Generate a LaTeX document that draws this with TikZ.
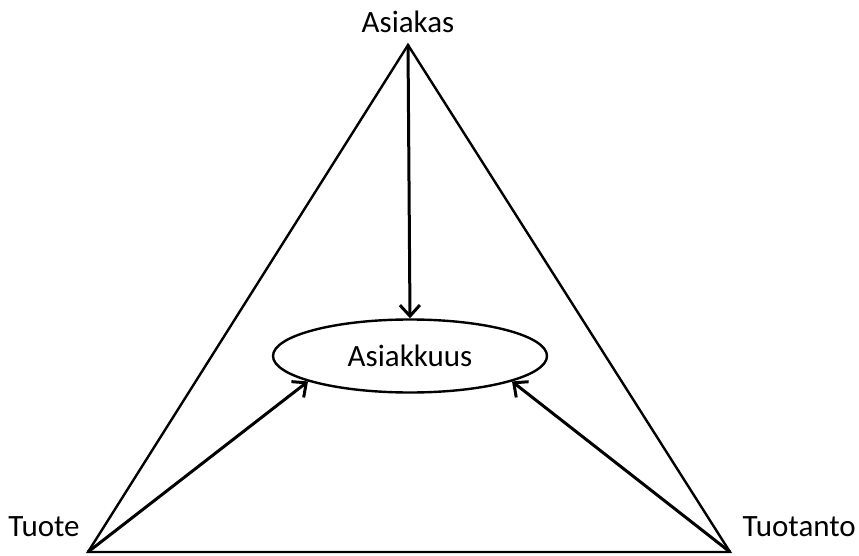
\documentclass[tikz,border=0pt]{standalone}
\usepackage{fontspec}
\setmainfont{Carlito}
\usetikzlibrary{arrows.meta,shapes.geometric}
\tikzset{
  edge/.style={line width=2.4pt, line join=miter},
  flow/.style={line width=3pt, -{Straight Barb[length=11pt,width=20pt]}},
  lbl/.style={font=\fontsize{31}{36}\selectfont, inner sep=0pt},
}
\begin{document}
\begin{tikzpicture}[x=1pt,y=1pt]
  \useasboundingbox (0,0) rectangle (859,555);
  % triangle corners
  \coordinate (top) at (408,510);
  \coordinate (left) at (88,3);
  \coordinate (right) at (730,3);
  \draw[edge] (top) -- (left) -- (right) -- cycle;
  % corner labels
  \node[lbl] (asiakas) at (408,533) {Asiakas};
  \node[lbl] (tuote) at (44,28) {Tuote};
  \node[lbl, anchor=east] (tuotanto) at (856,28) {Tuotanto};
  % central ellipse
  \node[ellipse, draw, line width=2.4pt, minimum width=274pt, minimum height=73pt,
        inner sep=0pt, font=\fontsize{31}{36}\selectfont] (ell) at (410,199) {Asiakkuus};
  % arrows into the ellipse
  \draw[flow] (top) -- (ell.north);
  \draw[flow] (left) -- (ell.194);
  \draw[flow] (right) -- (ell.346);
\end{tikzpicture}
\end{document}
